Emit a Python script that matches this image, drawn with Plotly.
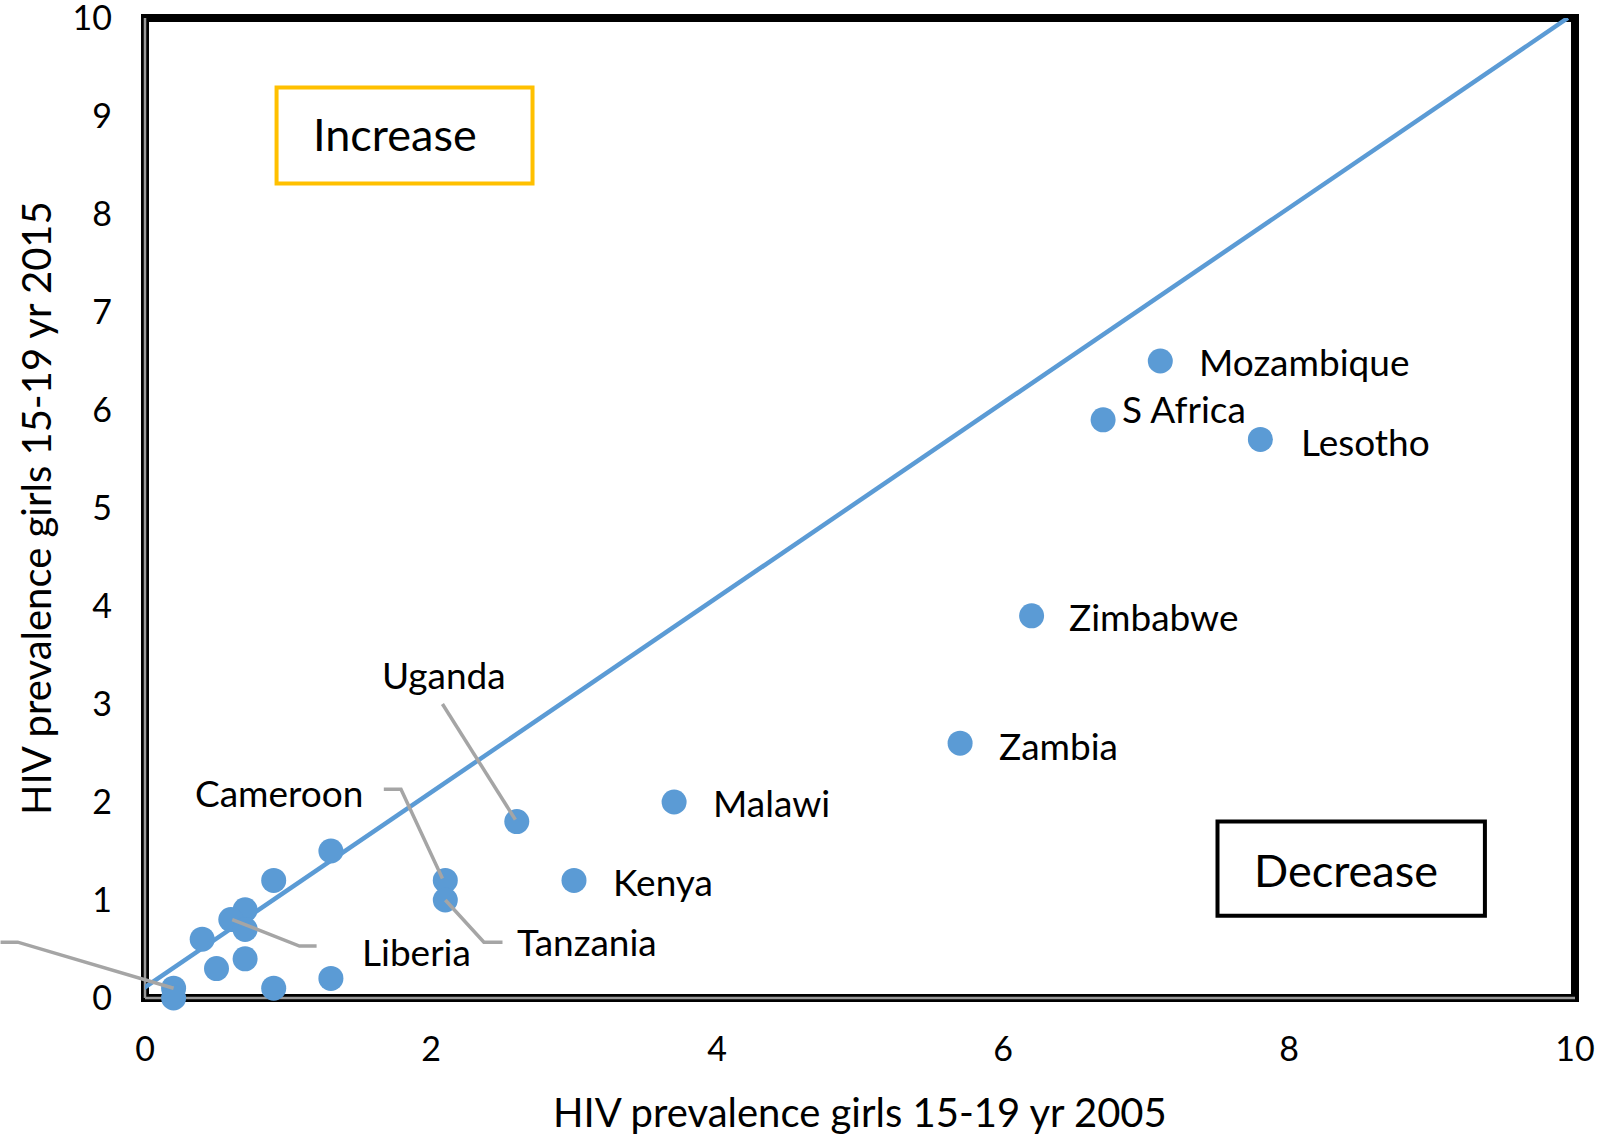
import plotly.graph_objects as go

# ---- data ----
countries = ["Mozambique", "S Africa", "Lesotho", "Zimbabwe", "Zambia", "Malawi",
             "Uganda", "Kenya", "Cameroon", "Tanzania", "", "", "", "Liberia",
             "", "", "", "", "", "", "", ""]
hiv_2005 = [7.1, 6.7, 7.8, 6.2, 5.7, 3.7, 2.6, 3.0, 2.1, 2.1, 1.3, 0.9, 0.7, 0.6,
            0.7, 0.4, 0.5, 0.7, 1.3, 0.9, 0.2, 0.2]
hiv_2015 = [6.5, 5.9, 5.7, 3.9, 2.6, 2.0, 1.8, 1.2, 1.2, 1.0, 1.5, 1.2, 0.9, 0.8,
            0.7, 0.6, 0.3, 0.4, 0.2, 0.1, 0.1, 0.0]

trend_x = [-0.06, 9.95]
trend_y = [0.05, 10.0]

x_ticks = [0, 2, 4, 6, 8, 10]
y_ticks = [0, 1, 2, 3, 4, 5, 6, 7, 8, 9, 10]

# label positions (data units): name, x, y, anchor
direct_labels = [
    ("Mozambique", 7.36, 6.50, "left"),
    ("S Africa", 6.82, 6.02, "left"),
    ("Lesotho", 8.07, 5.68, "left"),
    ("Zimbabwe", 6.45, 3.89, "left"),
    ("Zambia", 5.96, 2.58, "left"),
    ("Malawi", 3.96, 1.99, "left"),
    ("Kenya", 3.26, 1.19, "left"),
    ("Uganda", 2.09, 3.30, "center"),
    ("Cameroon", 1.54, 2.10, "right"),
    ("Tanzania", 2.59, 0.58, "left"),
    ("Liberia", 1.50, 0.47, "left"),
]

leaders = [
    [(2.08, 3.00), (2.59, 1.82)],
    [(1.67, 2.13), (1.79, 2.13), (2.08, 1.22)],
    [(2.50, 0.57), (2.37, 0.57), (2.10, 1.00)],
    [(1.20, 0.53), (1.08, 0.53), (0.61, 0.80)],
    [(-1.01, 0.57), (-0.89, 0.57), (0.20, 0.10)],
]

X_RANGE = [0, 10]
Y_RANGE = [0, 10]

FONT = "Lato, Calibri, Carlito, sans-serif"
BLUE = "#5B9BD5"
GRAY = "#A5A5A5"

fig = go.Figure()

fig.add_trace(go.Scatter(
    x=trend_x, y=trend_y, mode="lines",
    line=dict(color=BLUE, width=4.5), hoverinfo="skip", showlegend=False))

fig.add_trace(go.Scatter(
    x=hiv_2005, y=hiv_2015, mode="markers", text=countries,
    marker=dict(color=BLUE, size=25, line=dict(width=0)),
    cliponaxis=False, showlegend=False))


def to_paper(pt):
    x, y = pt
    return ((x - X_RANGE[0]) / (X_RANGE[1] - X_RANGE[0]),
            (y - Y_RANGE[0]) / (Y_RANGE[1] - Y_RANGE[0]))


shapes = []
# frame
shapes.append(dict(type="rect", xref="paper", yref="paper", x0=0, y0=0, x1=1, y1=1,
                   line=dict(color="black", width=8), layer="below"))
shapes.append(dict(type="line", xref="paper", yref="paper", x0=0, y0=0, x1=0, y1=1,
                   line=dict(color="#9A9A9A", width=2.5), layer="below"))
shapes.append(dict(type="line", xref="paper", yref="paper", x0=0, y0=0, x1=1, y1=0,
                   line=dict(color="#9A9A9A", width=2.5), layer="below"))

for pts in leaders:
    pp = [to_paper(p) for p in pts]
    path = "M " + " L ".join(f"{px:.5f},{py:.5f}" for px, py in pp)
    shapes.append(dict(type="path", xref="paper", yref="paper", path=path,
                       line=dict(color=GRAY, width=3.5), layer="above"))

# Increase / Decrease boxes
shapes.append(dict(type="rect", xref="x", yref="y", x0=0.92, x1=2.71, y0=8.31, y1=9.29,
                   line=dict(color="#FFC000", width=4), fillcolor="white", layer="above"))
shapes.append(dict(type="rect", xref="x", yref="y", x0=7.50, x1=9.37, y0=0.84, y1=1.80,
                   line=dict(color="black", width=4), fillcolor="white", layer="above"))

annotations = []
for name, x, y, anchor in direct_labels:
    annotations.append(dict(x=x, y=y, xref="x", yref="y", text=name, showarrow=False,
                            xanchor=anchor, yanchor="middle",
                            font=dict(family=FONT, size=37, color="black")))

annotations.append(dict(x=1.16, y=8.82, xref="x", yref="y", text="Increase", showarrow=False,
                        xanchor="left", yanchor="middle",
                        font=dict(family=FONT, size=45, color="black")))
annotations.append(dict(x=7.74, y=1.31, xref="x", yref="y", text="Decrease", showarrow=False,
                        xanchor="left", yanchor="middle",
                        font=dict(family=FONT, size=45, color="black")))

# axis titles
annotations.append(dict(x=0.5, y=-0.1163, xref="paper", yref="paper",
                        text="HIV prevalence girls 15-19 yr 2005", showarrow=False,
                        xanchor="center", yanchor="middle",
                        font=dict(family=FONT, size=40, color="black")))
annotations.append(dict(x=-0.0762, y=0.5, xref="paper", yref="paper",
                        text="HIV prevalence girls 15-19 yr 2015", showarrow=False,
                        textangle=-90, xanchor="center", yanchor="middle",
                        font=dict(family=FONT, size=40, color="black")))

fig.update_layout(
    width=1600, height=1136,
    margin=dict(l=145, r=25, t=18, b=138, pad=0, autoexpand=False),
    paper_bgcolor="white", plot_bgcolor="white",
    shapes=shapes, annotations=annotations,
    font=dict(family=FONT, color="black"),
    xaxis=dict(range=X_RANGE, tickvals=x_ticks, showgrid=False, zeroline=False,
               showline=False, ticks="", ticklabelstandoff=28, automargin=False,
               ticklabeloverflow="allow",
               tickfont=dict(family=FONT, size=34, color="black")),
    yaxis=dict(range=Y_RANGE, tickvals=y_ticks, showgrid=False, zeroline=False,
               showline=False, ticks="", ticklabelstandoff=32, automargin=False,
               ticklabeloverflow="allow",
               tickfont=dict(family=FONT, size=34, color="black")),
)

fig.write_html("out.html",
               config={"displayModeBar": False},
               post_script="document.body.style.margin='0';document.body.style.overflow='hidden';")
